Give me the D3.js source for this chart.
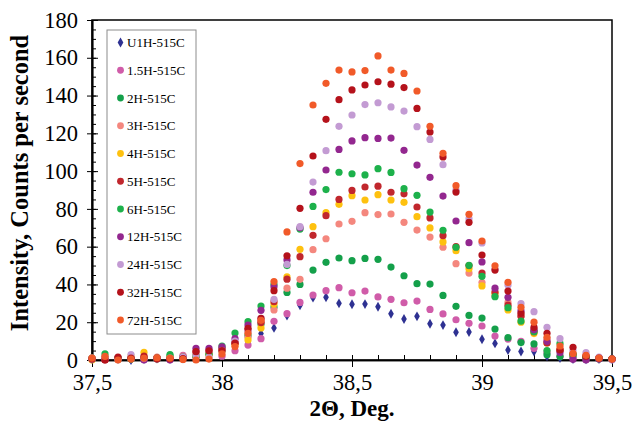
<!DOCTYPE html>
<html>
<head>
<meta charset="utf-8">
<script src="https://cdn.jsdelivr.net/npm/d3@7"></script>
<style>
  html, body { margin: 0; padding: 0; background: #fff; }
  svg { display: block; font-family: "Liberation Serif", "Times New Roman", serif; }
</style>
</head>
<body>
<svg id="chart" width="632" height="422"></svg>
<script>
// 2-theta positions, 37.5 to 39.5 deg in 0.05 steps
const twoTheta = [37.5,37.55,37.6,37.65,37.7,37.75,37.8,37.85,37.9,37.95,
  38,38.05,38.1,38.15,38.2,38.25,38.3,38.35,38.4,38.45,
  38.5,38.55,38.6,38.65,38.7,38.75,38.8,38.85,38.9,38.95,
  39,39.05,39.1,39.15,39.2,39.25,39.3,39.35,39.4,39.45,39.5];

const seriesNames = ["U1H-515C","1.5H-515C","2H-515C","3H-515C","4H-515C","5H-515C",
  "6H-515C","12H-515C","24H-515C","32H-515C","72H-515C"];

const seriesColors = ["#2e3192","#d05ca9","#14a04a","#f4877e","#fec10f","#c1272d",
  "#1db14b","#93278f","#c39bd3","#b5121b","#f15a29"];

// Intensity (counts per second) for each annealing time
const u1h   = [0.5,0.8,0.5,0,0.5,0.8,0.5,0.8,1.5,2, 4,6,9,14,17,23.5,29,33,33.2,30, 29.5,29.6,28.2,24.5,21.7,23.1,19.2,18.5,14.7,14.8, 11,8.8,5.3,4.5,4.5,2,1,0.5,0.3,0.5,0.5];
const h1_5  = [1,0.5,1,0.5,0.5,1,0.8,2.5,1.5,3, 2,4.9,7.9,11.3,20.5,24.5,30.5,34.4,36.7,38.3, 35.6,36.5,33.4,32.1,30.3,31.2,26.8,24.4,21.3,19.4, 18,12.7,11.1,9.9,6.2,4,2,1,0.5,0.5,0.8];
const h2    = [1,1,0.5,0.5,1,0.5,2,1,2,3, 5,9,13,19,28,35.8,40,47.6,51.7,54, 52.6,53.8,53.3,49.2,44.6,40.4,40.2,34.2,28.4,23.6, 22.2,16.4,11.8,9.2,8.5,2.8,1.8,2,1,0.5,0.5];
const h3    = [1,1.5,1,0.5,1,1.5,1,2,2.5,3, 6,9,12,20,26.5,38,42.7,58.4,64.2,72, 73.4,78,77,77.3,72.9,68.8,65.1,59.7,51,46, 41,34,30.5,23,16,11,6,3,2,1,0.5];
const h4    = [0,1,1,2,4,1,1.5,1,2,2.5, 5,8,10.6,17,29.6,44,58.6,70.6,78,82.4, 87,84.7,87.5,84.7,83.5,75.9,69.9,62.5,57.9,48.3, 39.2,35.3,26.5,20,14,9,5,3,1.5,1,0.5];
const h5    = [0.5,0,1,0.5,2,1,0.7,1,4.4,4.9, 6,9,15.9,19.8,30.9,42.8,54.7,66,76.4,85, 89.8,91.6,92,88.8,88,81,75.2,65.8,60,50, 46,36,29,23.3,15,9,5.3,3,1.5,1,0.5];
const h6    = [0.5,3.2,1,0.5,1,1,2.8,1.5,2,3, 7.4,14.3,20.3,28.6,40,50,69.3,81.3,90.2,99.4, 98.6,98,101.3,99.3,90.7,87.2,78.3,68.7,59.7,50.1, 44.3,33.5,27.7,20.6,15,5,8.8,3,1.5,1,0.5];
const h12   = [0.5,1,0.5,1,0,1,0,1.5,6.2,6.2, 7,11.3,18.5,26.3,38.8,53,70,88.8,100.6,111.5, 116,117.7,117.3,117.5,111,103.2,96.7,86.8,73.6,62.1, 51.9,38,33.2,26,16,9.9,4,0.4,0,0.5,0.3];
const h24   = [0.5,1,0.5,2.8,1,0.5,1,1.5,2.5,1.5, 5,10,15,22,32.1,50.6,70.6,94.2,110.8,123.7, 129.7,135.2,136.2,134,131.8,123.5,116.8,103.4,90,74.8, 62,48,39.7,29.8,25.6,17.3,11.3,5,3.9,1.5,0];
const h32   = [0.5,0,1.5,1,1.5,0.5,0.7,0.7,4.4,4.9, 5,9,16.8,22,36.7,55.2,80.3,108,127.4,137.8, 143,145.6,147.3,146,144.2,133.2,120.7,107.5,88.9,72.9, 55.6,47.6,36.5,24.7,17.3,14.1,5.3,6.7,2,1,0.5];
const h72   = [1,1.9,0,0.5,1,1.2,1,0.3,0,0.5, 3.2,7.1,14.1,21,41.5,67.8,104,135,146.5,153.5, 152.5,153.2,161,153.5,151.7,142.4,123.7,109.4,92.3,77.1, 63,49.9,41.1,27.9,20,12,7.4,3.5,2.5,1,0.5];

const seriesValues = [u1h,h1_5,h2,h3,h4,h5,h6,h12,h24,h32,h72];

// Axis ticks
const xMajor = [37.5,38,38.5,39,39.5];
const xMinor = d3.range(37.5, 39.5001, 0.1).map(v => +v.toFixed(1));
const yMajor = [0,20,40,60,80,100,120,140,160,180];
const yMinor = d3.range(0, 181, 5);

const svg = d3.select("#chart");
const plot = { left: 92, right: 612, top: 20, bottom: 360 };

const x = d3.scaleLinear().domain([37.5, 39.5]).range([plot.left, plot.right]);
const y = d3.scaleLinear().domain([0, 180]).range([plot.bottom, plot.top]);

const fmt = d => String(d).replace(".", ",");

// plot frame
svg.append("rect")
  .attr("x", plot.left).attr("y", plot.top)
  .attr("width", plot.right - plot.left).attr("height", plot.bottom - plot.top)
  .attr("fill", "none").attr("stroke", "#000").attr("stroke-width", 1.5);

// x axis: outward major ticks with labels, inward minor ticks
const xAxisOut = svg.append("g").attr("transform", `translate(0,${plot.bottom})`)
  .call(d3.axisBottom(x).tickValues(xMajor).tickFormat(fmt).tickSize(7).tickSizeOuter(0));
svg.append("g").attr("transform", `translate(0,${plot.bottom})`)
  .call(d3.axisTop(x).tickValues(xMinor).tickFormat("").tickSize(5).tickSizeOuter(0));
xAxisOut.selectAll("text")
  .attr("y", 30).attr("dy", 0)
  .attr("font-size", 22.5).attr("fill", "#000")
  .style("font-family", "'Liberation Serif', serif");

// y axis
const yAxisOut = svg.append("g").attr("transform", `translate(${plot.left},0)`)
  .call(d3.axisLeft(y).tickValues(yMajor).tickSize(5).tickPadding(9).tickSizeOuter(0));
svg.append("g").attr("transform", `translate(${plot.left},0)`)
  .call(d3.axisRight(y).tickValues(yMinor).tickFormat("").tickSize(4).tickSizeOuter(0));
svg.append("g").attr("transform", `translate(${plot.left},0)`)
  .call(d3.axisRight(y).tickValues(yMajor).tickFormat("").tickSize(6).tickSizeOuter(0));
yAxisOut.selectAll("text").attr("font-size", 22.5).attr("fill", "#000")
  .style("font-family", "'Liberation Serif', serif");

svg.selectAll(".domain").attr("stroke", "#000").attr("stroke-width", 1.5);
svg.selectAll(".tick line").attr("stroke", "#000").attr("stroke-width", 1);

// axis titles
svg.append("text")
  .attr("x", 352).attr("y", 416)
  .attr("text-anchor", "middle").attr("font-size", 23).attr("font-weight", "bold")
  .text("2Θ, Deg.");
svg.append("text")
  .attr("transform", `translate(28,183) rotate(-90)`)
  .attr("text-anchor", "middle").attr("font-size", 24.5).attr("font-weight", "bold")
  .text("Intensity, Counts per second");

// data points
const diamond = d3.symbol().type(d3.symbolDiamond).size(28);
seriesValues.forEach((vals, si) => {
  const g = svg.append("g");
  const pts = twoTheta.map((t, i) => [t, vals[i]]);
  if (si === 0) {
    g.selectAll("path").data(pts).join("path")
      .attr("d", diamond)
      .attr("transform", d => `translate(${x(d[0])},${y(d[1])})`)
      .attr("fill", seriesColors[si]);
  } else {
    g.selectAll("circle").data(pts).join("circle")
      .attr("cx", d => x(d[0])).attr("cy", d => y(d[1]))
      .attr("r", 3.6).attr("fill", seriesColors[si]);
  }
});

// legend
const legend = svg.append("g");
legend.append("rect")
  .attr("x", 107).attr("y", 30).attr("width", 89).attr("height", 304)
  .attr("fill", "#fff").attr("stroke", "#8c8c8c").attr("stroke-width", 1);
seriesNames.forEach((name, i) => {
  const ly = 42.5 + i * 27.75;
  if (i === 0) {
    legend.append("path").attr("d", diamond)
      .attr("transform", `translate(120.5,${ly})`).attr("fill", seriesColors[i]);
  } else {
    legend.append("circle").attr("cx", 120.5).attr("cy", ly).attr("r", 3.4)
      .attr("fill", seriesColors[i]);
  }
  legend.append("text").attr("x", 127).attr("y", ly + 4.5)
    .attr("font-size", 13).attr("fill", "#000").text(name);
});
</script>
</body>
</html>
